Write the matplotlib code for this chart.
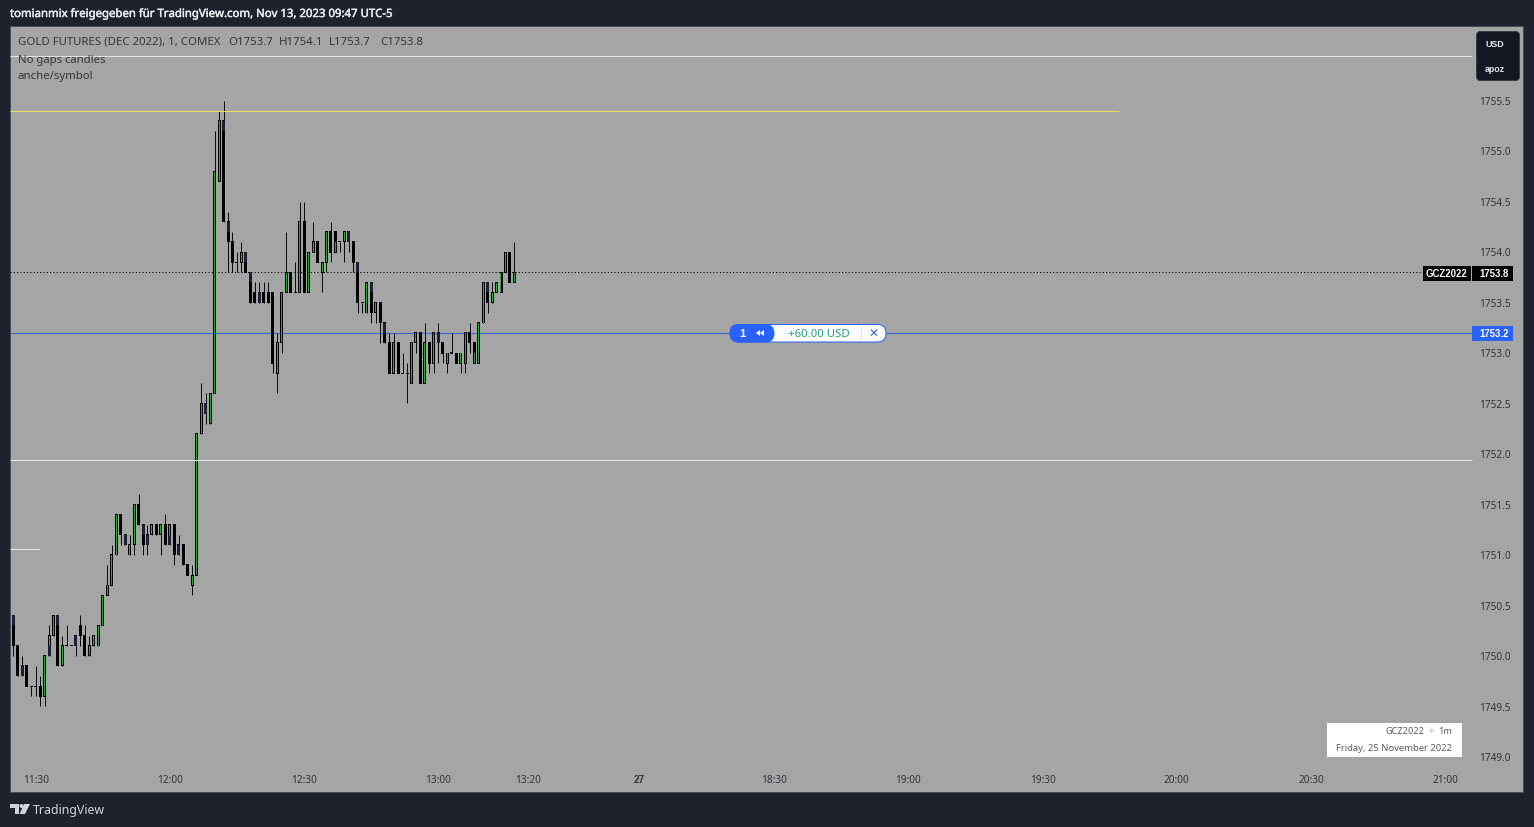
import matplotlib
matplotlib.use("Agg")
import matplotlib.pyplot as plt
import matplotlib.patheffects as pe
from matplotlib.patches import FancyBboxPatch, Rectangle, Polygon, Circle
from matplotlib.transforms import ScaledTranslation

W, H = 1534, 828
opens = [1750.4,1750.1,1749.9,1749.9,1749.7,1749.7,1749.7,1749.6,1750.0,1750.2,
 1750.4,1749.9,1750.1,1750.1,1750.2,1750.3,1750.2,1750.0,1750.1,1750.1,
 1750.3,1750.6,1750.7,1751.0,1751.4,1751.2,1751.0,1751.1,1751.5,1751.3,
 1751.2,1751.2,1751.3,1751.2,1751.3,1751.1,1751.3,1751.1,1751.1,1750.9,
 1750.7,1750.8,1752.2,1752.5,1752.3,1752.6,1754.7,1755.3,1754.3,1754.1,
 1753.9,1753.9,1754.0,1753.8,1753.6,1753.6,1753.6,1753.6,1753.6,1752.8,
 1753.1,1753.6,1753.8,1753.6,1753.6,1754.3,1753.6,1754.0,1754.1,1753.8,
 1753.9,1754.2,1754.2,1754.1,1754.1,1754.2,1754.1,1753.9,1753.5,1753.4,
 1753.7,1753.4,1753.5,1753.3,1753.1,1752.8,1753.1,1752.8,1752.8,1752.7,
 1753.1,1753.2,1752.7,1753.1,1752.9,1753.2,1753.1,1752.9,1753.0,1753.0,
 1752.9,1752.9,1753.2,1753.1,1752.9,1753.3,1753.7,1753.5,1753.6,1753.6,
 1753.8,1754.0,1753.7]
highs = [1750.4,1750.1,1750.0,1749.9,1749.7,1749.9,1749.8,1750.0,1750.3,1750.4,
 1750.4,1750.2,1750.3,1750.1,1750.2,1750.4,1750.3,1750.2,1750.2,1750.3,
 1750.6,1750.9,1751.1,1751.4,1751.4,1751.2,1751.2,1751.5,1751.6,1751.3,
 1751.3,1751.3,1751.3,1751.3,1751.4,1751.3,1751.3,1751.2,1751.1,1750.9,
 1750.9,1752.2,1752.7,1752.6,1752.6,1755.2,1755.4,1755.5,1754.4,1754.2,
 1754.0,1754.1,1754.0,1753.8,1753.7,1753.7,1753.7,1753.7,1753.6,1753.2,
 1753.6,1754.2,1753.8,1753.9,1754.5,1754.5,1754.0,1754.3,1754.1,1753.9,
 1754.2,1754.3,1754.2,1754.1,1754.2,1754.2,1754.1,1753.9,1753.5,1753.7,
 1753.7,1753.5,1753.5,1753.3,1753.2,1753.2,1753.1,1753.0,1752.9,1753.1,
 1753.2,1753.2,1753.3,1753.1,1753.2,1753.3,1753.1,1753.0,1753.2,1753.0,
 1753.0,1753.2,1753.3,1753.1,1753.3,1753.7,1753.7,1753.7,1753.7,1753.8,
 1754.0,1754.0,1754.1]
lows = [1750.0,1749.8,1749.8,1749.7,1749.6,1749.6,1749.5,1749.5,1750.0,1750.2,
 1749.9,1749.9,1750.1,1750.1,1750.0,1750.1,1750.0,1750.0,1750.1,1750.1,
 1750.3,1750.6,1750.7,1751.0,1751.1,1751.1,1751.0,1751.0,1751.3,1751.0,
 1751.0,1751.2,1751.2,1751.0,1751.1,1751.1,1750.9,1751.0,1750.9,1750.8,
 1750.6,1750.8,1752.2,1752.3,1752.3,1752.6,1754.7,1754.3,1753.8,1753.8,
 1753.8,1753.8,1753.8,1753.5,1753.5,1753.5,1753.5,1753.5,1752.8,1752.6,
 1753.0,1753.6,1753.6,1753.6,1753.6,1753.6,1753.6,1754.0,1753.9,1753.6,
 1753.8,1753.9,1754.0,1754.0,1753.9,1754.0,1753.8,1753.4,1753.4,1753.4,
 1753.3,1753.3,1753.1,1753.1,1752.8,1752.8,1752.8,1752.8,1752.5,1752.7,
 1753.0,1752.7,1752.7,1752.8,1752.8,1752.9,1752.9,1752.8,1753.0,1752.9,
 1752.8,1752.8,1753.0,1752.9,1752.9,1753.3,1753.4,1753.5,1753.6,1753.6,
 1753.8,1753.7,1753.7]
closes = [1750.1,1749.8,1749.8,1749.7,1749.7,1749.7,1749.6,1750.0,1750.2,1750.4,
 1749.9,1750.1,1750.1,1750.1,1750.1,1750.2,1750.0,1750.1,1750.2,1750.3,
 1750.6,1750.7,1751.0,1751.4,1751.2,1751.1,1751.1,1751.5,1751.3,1751.1,
 1751.1,1751.3,1751.2,1751.3,1751.1,1751.3,1751.0,1751.0,1750.9,1750.8,
 1750.8,1752.2,1752.5,1752.4,1752.6,1754.8,1755.3,1754.3,1754.1,1753.9,
 1753.9,1754.0,1753.8,1753.5,1753.5,1753.5,1753.5,1753.5,1752.9,1753.1,
 1753.6,1753.8,1753.6,1753.6,1754.3,1753.6,1754.0,1754.1,1753.9,1753.9,
 1754.2,1754.0,1754.0,1754.1,1754.2,1754.1,1753.9,1753.5,1753.5,1753.7,
 1753.4,1753.5,1753.3,1753.1,1752.8,1753.1,1752.8,1752.8,1752.8,1753.1,
 1753.2,1752.7,1753.1,1752.9,1753.2,1753.1,1753.0,1753.0,1753.0,1752.9,
 1753.0,1753.2,1753.1,1752.9,1753.3,1753.7,1753.5,1753.6,1753.7,1753.8,
 1754.0,1753.7,1753.8]
# shaded part of a body (0-based bar, low, high); the "no gaps" overlay
navy_bars = [0,2,8,10,14,25,29,30,35,37,43,47,48,52,53,55,75,77,80,83,95,106]
navy_lo = [1750.3,1749.8,1750.0,1750.3,1750.1,1751.1,1751.2,1751.1,1751.1,1751.0,1752.4,
           1755.2,1754.2,1753.9,1753.7,1753.5,1754.1,1753.8,1753.6,1753.2,1753.1,1753.6]
navy_hi = [1750.4,1749.9,1750.1,1750.4,1750.2,1751.2,1751.3,1751.2,1751.2,1751.1,1752.5,
           1755.3,1754.3,1754.0,1753.8,1753.6,1754.2,1753.9,1753.7,1753.3,1753.2,1753.7]
dull_bars = [19,21,22,23,26,41,46,59,64,72,79,89,97,101,103,104,105,109]
dull_lo = [1750.1,1750.6,1750.7,1751.0,1751.0,1750.8,1754.7,1752.8,1753.6,1754.0,1753.4,
           1752.7,1752.9,1752.9,1752.9,1752.9,1753.3,1753.6]
dull_hi = [1750.2,1750.7,1750.8,1751.1,1751.1,1750.9,1754.8,1752.9,1753.7,1754.1,1753.5,
           1752.8,1753.0,1753.0,1753.0,1753.0,1753.4,1753.7]

price_ticks = [1749.0,1749.5,1750.0,1750.5,1751.0,1751.5,1752.0,1752.5,1753.0,1753.5,1754.0,1754.5,1755.0,1755.5]
time_ticks = [0,30,60,90,110,135,165,195,225,255,285,315]
time_labels = ["11:30","12:00","12:30","13:00","13:20","27","18:30","19:00","19:30","20:00","20:30","21:00"]
first_bar = -5
level_white_prices = [1755.946, 1751.943, 1751.06]
level_white_ends = [321, 321, 1]
level_yellow_price, level_yellow_end = 1755.40, 242
last_price, entry_price = 1753.8, 1753.2

BG, PANEL = "#1e222d", "#a5a5a5"
GREEN, DULL, NAVY = "#2fab38", "#4f8a58", "#1c2233"
INK = "#33353c"
FONT = "Noto Sans"
BOLD = "Liberation Sans"
plt.rcParams["font.family"] = [FONT, "DejaVu Sans"]
px = 72 / 100

fig = plt.figure(figsize=(W / 100, H / 100), dpi=100, facecolor=BG)
L, R, T, B = 10, 1523, 27.4, 793.4
ax = fig.add_axes([L / W, 1 - B / H, (R - L) / W, (B - T) / H], facecolor=PANEL)
bar_px, tick_px = 4.475, 100.92
x_of = lambda px_x: (px_x - 35.6) / bar_px
y_of = lambda px_y: 1755.5 - (px_y - 101.7) / tick_px
ax.set_xlim(x_of(L), x_of(R))
ax.set_ylim(y_of(B), y_of(T))

xs = [first_bar + i for i in range(len(opens))]
wicks = ax.vlines(xs, lows, highs, color="#0c0d12", lw=1 * px, zorder=2)
wicks.set_snap(True)
half = 0.5 / tick_px
w3, w1 = 3 / bar_px, 1 / bar_px
for x, o, c in zip(xs, opens, closes):
    lo, hi = min(o, c), max(o, c)
    ax.bar(x, hi - lo + 2 * half, bottom=lo - half, width=w3, color="black", linewidth=0, zorder=3)
    if c > o:
        ax.bar(x, hi - lo - 2 * half, bottom=lo + half, width=w1, color=GREEN, linewidth=0, zorder=3.5)
for i, lo, hi in zip(navy_bars, navy_lo, navy_hi):
    ax.bar(xs[i], hi - lo, bottom=lo, width=w3, color=NAVY, linewidth=0, zorder=4)
for i, lo, hi in zip(dull_bars, dull_lo, dull_hi):
    ax.bar(xs[i], hi - lo, bottom=lo, width=w1, color=DULL, linewidth=0, zorder=4)

for p, e in zip(level_white_prices, level_white_ends):
    ax.hlines(p, x_of(L), e, color="#e4e4e4", lw=1.1 * px, zorder=5)
ax.hlines(level_yellow_price, x_of(L), level_yellow_end, color="#f0e060", lw=1.1 * px, zorder=5)
ax.hlines(last_price, x_of(L), x_of(1423), color="black", lw=1.1 * px, linestyles=(0, (1, 2)), zorder=5)
ax.hlines(entry_price, x_of(L), x_of(1472), color="#3a68d0", lw=1.1 * px, zorder=1.5)

ax.yaxis.tick_right()
ax.set_yticks(price_ticks)
ax.set_yticklabels([f"{v:.1f}" for v in price_ticks])
ax.tick_params(axis="y", length=0, pad=-44 * px, labelsize=7.2, labelcolor=INK)
ax.set_xticks(time_ticks)
ax.set_xticklabels(time_labels)
ax.tick_params(axis="x", length=0, pad=-18.5 * px, labelsize=7.2, labelcolor=INK)
for lab in ax.get_xticklabels():
    if lab.get_text() == "27":
        lab.set_fontweight("bold")
        lab.set_family(BOLD)
up_shift = ScaledTranslation(0, 0.7 / 100, fig.dpi_scale_trans)
for lab in ax.get_yticklabels():
    lab.set_transform(lab.get_transform() + up_shift)
for s in ax.spines.values():
    s.set_color("#4a4e5a")
    s.set_linewidth(1 * px)

# pixel overlay for the chrome of the screenshot
ov = fig.add_axes([0, 0, 1, 1], facecolor="none", zorder=5)
ov.set_xlim(0, W)
ov.set_ylim(H - 1, -1)
ov.axis("off")

def label(x, y, s, size=8.6, color=INK, ha="left", weight="normal", **kw):
    return ov.text(x, y, s, fontsize=size, color=color, ha=ha, va="center", fontweight=weight, **kw)

head = label(10, 14.5, "tomianmix freigegeben für TradingView.com, Nov 13, 2023 09:47 UTC-5", 8.2, "#e8e9ec")
head.set_path_effects([pe.withStroke(linewidth=0.35, foreground="#e8e9ec")])
label(18, 41.5, "GOLD FUTURES (DEC 2022), 1, COMEX", 8.2)
for x, s in zip([228, 279, 329, 380], ["O1753.7", "H1754.1", "L1753.7", "C1753.8"]):
    label(x, 41.5, s, 8.2)
label(18, 59, "No gaps candles", 8.1)
label(18, 76, "anche/symbol", 8.2)

ov.add_patch(FancyBboxPatch((1476.5, 31.5), 43, 49, boxstyle="round,pad=0,rounding_size=4",
                            fc="#131722", ec="#3a3e4a", lw=1 * px))
label(1485, 43.5, "USD", 6.4, "#e4e5e8", family=BOLD, weight="bold")
label(1485, 68, "apoz", 6.4, "#e4e5e8", family=BOLD, weight="bold")

ov.add_patch(Rectangle((1423, 266), 48, 14.5, fc="black", ec="none"))
ov.add_patch(Rectangle((1472, 266), 41, 14.5, fc="black", ec="none"))
label(1446.5, 273.5, "GCZ2022", 6.9, "white", "center", "bold", family=BOLD)
label(1494, 273.5, "1753.8", 6.9, "white", "center", "bold", family=BOLD)
ov.add_patch(Rectangle((1472, 325.5), 41, 15, fc="#2962ff", ec="none"))
label(1494, 333.5, "1753.2", 6.9, "white", "center", "bold", family=BOLD)

ov.add_patch(FancyBboxPatch((730, 324.5), 156, 17.5, boxstyle="round,pad=0,rounding_size=8.7",
                            fc="white", ec="#2962ff", lw=1 * px))
ov.add_patch(FancyBboxPatch((730, 324.5), 44, 17.5, boxstyle="round,pad=0,rounding_size=8.7",
                            fc="#2962ff", ec="#2962ff", lw=1 * px))
ov.add_patch(Rectangle((861, 326), 0.8, 15, fc="#d8e2ff", ec="none"))
label(742.5, 333.5, "1", 8.0, "white", "center", "bold", family=BOLD)
for off in (0, 4):
    ov.add_patch(Polygon([[756 + off, 333], [760 + off, 330], [760 + off, 336]], fc="white", ec="none"))
label(818.5, 333.5, "+60.00 USD", 8.2, "#1f9d85", "center")
label(873, 333.5, "✕", 8.6, "#2962ff", "center", family="DejaVu Sans")

ov.add_patch(Rectangle((1327, 722.5), 135, 34, fc="white", ec="none"))
label(1424, 731, "GCZ2022", 6.6, "#5a5d68", "right")
label(1431, 731, "✳", 6.2, "#c8c8cc", "center", family="DejaVu Sans")
label(1452, 731, "1m", 6.6, "#5a5d68", "right")
label(1452, 748, "Friday, 25 November 2022", 6.8, "#5a5d68", "right")

logo = "#d1d4dc"
ov.add_patch(Polygon([[10, 804], [19, 804], [19, 814], [15, 814], [15, 808], [10, 808]], fc=logo, ec="none"))
ov.add_patch(Circle((21.5, 806), 2, fc=logo, ec="none"))
ov.add_patch(Polygon([[24, 804], [30, 804], [25, 814], [19.5, 814]], fc=logo, ec="none"))
label(33, 809.5, "TradingView", 8.9, logo)

fig.savefig("out.png", dpi=100, facecolor=BG)
